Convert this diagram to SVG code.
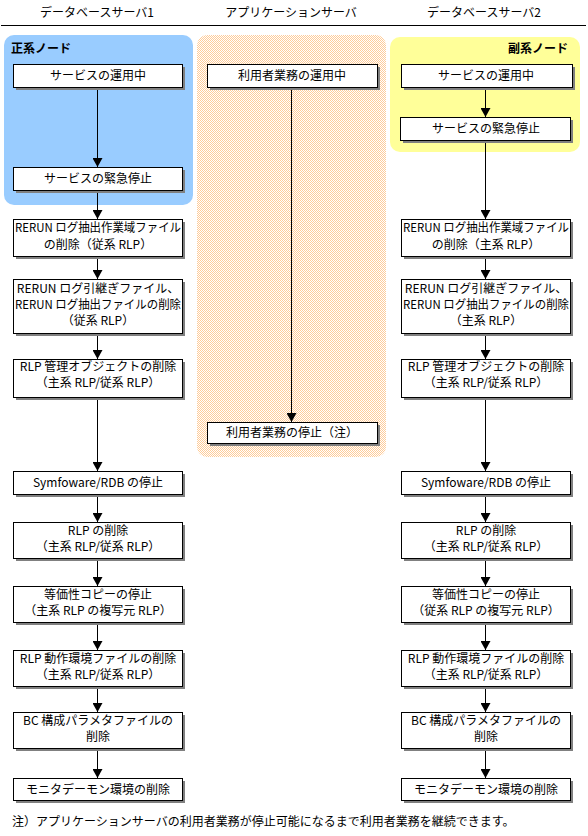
<svg xmlns="http://www.w3.org/2000/svg" width="588" height="836" viewBox="0 0 588 836">
<defs>
<pattern id="dither" width="2" height="2" patternUnits="userSpaceOnUse">
<rect width="2" height="2" fill="#FFFFFF"/>
<rect width="1" height="1" fill="#FFCC99"/>
<rect x="1" y="1" width="1" height="1" fill="#FFCC99"/>
</pattern>
<marker id="ah" markerUnits="userSpaceOnUse" markerWidth="10" markerHeight="10" refX="9" refY="5" orient="auto" viewBox="0 0 10 10">
<path d="M0,0 L9,5 L0,10 z" fill="#000"/>
</marker>
</defs>
<style>
text{font-family:"Noto Sans CJK JP","Noto Sans",sans-serif;font-size:12px;fill:#000}
.c{text-anchor:middle}
.b{font-weight:bold}
.box{fill:#fff;stroke:#000;stroke-width:1}
.sh{fill:#808080}
.ln{stroke:#000;stroke-width:1;fill:none}
.ar{stroke:#000;stroke-width:1;fill:none;marker-end:url(#ah)}
</style>
<rect width="588" height="836" fill="#fff"/>
<g id="headers">
<text class="c" x="97" y="17">データベースサーバ1</text>
<text class="c" x="291" y="17">アプリケーションサーバ</text>
<text class="c" x="484" y="17">データベースサーバ2</text>
<line class="ln" x1="1" y1="25.5" x2="586" y2="25.5"/>
</g>
<g id="panels">
<rect x="4" y="35" width="189" height="170" rx="10" fill="#99CCFF"/>
<rect x="197" y="35" width="189" height="422" rx="10" fill="url(#dither)"/>
<rect x="390" y="37" width="190" height="115" rx="10" fill="#FFFF99"/>
<text class="b" x="11" y="53">正系ノード</text>
<text class="b" x="568" y="53" text-anchor="end">副系ノード</text>
</g>
<g id="connectors">
<line class="ar" x1="97.5" y1="87" x2="97.5" y2="167"/>
<line class="ar" x1="97.5" y1="190" x2="97.5" y2="219"/>
<line class="ar" x1="97.5" y1="256" x2="97.5" y2="279"/>
<line class="ar" x1="97.5" y1="333" x2="97.5" y2="359"/>
<line class="ar" x1="97.5" y1="397" x2="97.5" y2="471"/>
<line class="ar" x1="97.5" y1="494" x2="97.5" y2="522"/>
<line class="ar" x1="97.5" y1="558" x2="97.5" y2="586"/>
<line class="ar" x1="97.5" y1="622" x2="97.5" y2="650"/>
<line class="ar" x1="97.5" y1="686" x2="97.5" y2="712"/>
<line class="ar" x1="97.5" y1="748" x2="97.5" y2="778"/>
<line class="ar" x1="291.5" y1="87" x2="291.5" y2="422"/>
<line class="ar" x1="485.5" y1="87" x2="485.5" y2="117"/>
<line class="ar" x1="485.5" y1="140" x2="485.5" y2="219"/>
<line class="ar" x1="485.5" y1="256" x2="485.5" y2="279"/>
<line class="ar" x1="485.5" y1="333" x2="485.5" y2="359"/>
<line class="ar" x1="485.5" y1="397" x2="485.5" y2="471"/>
<line class="ar" x1="485.5" y1="494" x2="485.5" y2="522"/>
<line class="ar" x1="485.5" y1="558" x2="485.5" y2="586"/>
<line class="ar" x1="485.5" y1="622" x2="485.5" y2="650"/>
<line class="ar" x1="485.5" y1="686" x2="485.5" y2="712"/>
<line class="ar" x1="485.5" y1="748" x2="485.5" y2="778"/>
</g>
<g id="L1"><rect class="sh" x="16" y="67" width="169" height="23"/><rect class="box" x="13.5" y="64.5" width="169" height="23"/><text class="c" x="98" y="80">サービスの運用中</text></g>
<g id="L2"><rect class="sh" x="16" y="170" width="169" height="23"/><rect class="box" x="13.5" y="167.5" width="169" height="23"/><text class="c" x="98" y="183">サービスの緊急停止</text></g>
<g id="L3"><rect class="sh" x="16" y="222" width="169" height="37"/><rect class="box" x="13.5" y="219.5" width="169" height="37"/><text class="c" x="98" y="232" textLength="166" lengthAdjust="spacingAndGlyphs">RERUN ログ抽出作業域ファイル</text><text class="c" x="98" y="249">の削除（従系 RLP）</text></g>
<g id="L4"><rect class="sh" x="16" y="282" width="169" height="54"/><rect class="box" x="13.5" y="279.5" width="169" height="54"/><text class="c" x="98" y="293">RERUN ログ引継ぎファイル、</text><text class="c" x="98" y="309" textLength="166" lengthAdjust="spacingAndGlyphs">RERUN ログ抽出ファイルの削除</text><text class="c" x="98" y="325">（従系 RLP）</text></g>
<g id="L5"><rect class="sh" x="16" y="362" width="169" height="38"/><rect class="box" x="13.5" y="359.5" width="169" height="38"/><text class="c" x="98" y="371">RLP 管理オブジェクトの削除</text><text class="c" x="98" y="387">（主系 RLP/従系 RLP）</text></g>
<g id="L6"><rect class="sh" x="16" y="474" width="169" height="23"/><rect class="box" x="13.5" y="471.5" width="169" height="23"/><text class="c" x="98" y="487">Symfoware/RDB の停止</text></g>
<g id="L7"><rect class="sh" x="16" y="525" width="169" height="36"/><rect class="box" x="13.5" y="522.5" width="169" height="36"/><text class="c" x="98" y="535">RLP の削除</text><text class="c" x="98" y="551">（主系 RLP/従系 RLP）</text></g>
<g id="L8"><rect class="sh" x="16" y="589" width="169" height="36"/><rect class="box" x="13.5" y="586.5" width="169" height="36"/><text class="c" x="98" y="599">等価性コピーの停止</text><text class="c" x="98" y="615">（主系 RLP の複写元 RLP）</text></g>
<g id="L9"><rect class="sh" x="16" y="653" width="169" height="36"/><rect class="box" x="13.5" y="650.5" width="169" height="36"/><text class="c" x="98" y="663">RLP 動作環境ファイルの削除</text><text class="c" x="98" y="679">（主系 RLP/従系 RLP）</text></g>
<g id="L10"><rect class="sh" x="16" y="715" width="169" height="36"/><rect class="box" x="13.5" y="712.5" width="169" height="36"/><text class="c" x="98" y="725">BC 構成パラメタファイルの</text><text class="c" x="98" y="741">削除</text></g>
<g id="L11"><rect class="sh" x="16" y="781" width="169" height="22"/><rect class="box" x="13.5" y="778.5" width="169" height="22"/><text class="c" x="98" y="794">モニタデーモン環境の削除</text></g>
<g id="M1"><rect class="sh" x="210" y="67" width="170" height="23"/><rect class="box" x="207.5" y="64.5" width="170" height="23"/><text class="c" x="292" y="80">利用者業務の運用中</text></g>
<g id="M2"><rect class="sh" x="210" y="425" width="170" height="21"/><rect class="box" x="207.5" y="422.5" width="170" height="21"/><text class="c" x="292" y="437">利用者業務の停止（注）</text></g>
<g id="R1"><rect class="sh" x="404" y="67" width="171" height="23"/><rect class="box" x="401.5" y="64.5" width="171" height="23"/><text class="c" x="486" y="80">サービスの運用中</text></g>
<g id="R2"><rect class="sh" x="403" y="120" width="170" height="23"/><rect class="box" x="400.5" y="117.5" width="170" height="23"/><text class="c" x="486" y="133">サービスの緊急停止</text></g>
<g id="R3"><rect class="sh" x="404" y="222" width="169" height="37"/><rect class="box" x="401.5" y="219.5" width="169" height="37"/><text class="c" x="486" y="232" textLength="166" lengthAdjust="spacingAndGlyphs">RERUN ログ抽出作業域ファイル</text><text class="c" x="486" y="249">の削除（主系 RLP）</text></g>
<g id="R4"><rect class="sh" x="404" y="282" width="169" height="54"/><rect class="box" x="401.5" y="279.5" width="169" height="54"/><text class="c" x="486" y="293">RERUN ログ引継ぎファイル、</text><text class="c" x="486" y="309" textLength="166" lengthAdjust="spacingAndGlyphs">RERUN ログ抽出ファイルの削除</text><text class="c" x="486" y="325">（主系 RLP）</text></g>
<g id="R5"><rect class="sh" x="404" y="362" width="169" height="38"/><rect class="box" x="401.5" y="359.5" width="169" height="38"/><text class="c" x="486" y="371">RLP 管理オブジェクトの削除</text><text class="c" x="486" y="387">（主系 RLP/従系 RLP）</text></g>
<g id="R6"><rect class="sh" x="404" y="474" width="169" height="23"/><rect class="box" x="401.5" y="471.5" width="169" height="23"/><text class="c" x="486" y="487">Symfoware/RDB の停止</text></g>
<g id="R7"><rect class="sh" x="404" y="525" width="169" height="36"/><rect class="box" x="401.5" y="522.5" width="169" height="36"/><text class="c" x="486" y="535">RLP の削除</text><text class="c" x="486" y="551">（主系 RLP/従系 RLP）</text></g>
<g id="R8"><rect class="sh" x="404" y="589" width="169" height="36"/><rect class="box" x="401.5" y="586.5" width="169" height="36"/><text class="c" x="486" y="599">等価性コピーの停止</text><text class="c" x="486" y="615">（従系 RLP の複写元 RLP）</text></g>
<g id="R9"><rect class="sh" x="404" y="653" width="169" height="36"/><rect class="box" x="401.5" y="650.5" width="169" height="36"/><text class="c" x="486" y="663">RLP 動作環境ファイルの削除</text><text class="c" x="486" y="679">（主系 RLP/従系 RLP）</text></g>
<g id="R10"><rect class="sh" x="404" y="715" width="169" height="36"/><rect class="box" x="401.5" y="712.5" width="169" height="36"/><text class="c" x="486" y="725">BC 構成パラメタファイルの</text><text class="c" x="486" y="741">削除</text></g>
<g id="R11"><rect class="sh" x="404" y="781" width="169" height="22"/><rect class="box" x="401.5" y="778.5" width="169" height="22"/><text class="c" x="486" y="794">モニタデーモン環境の削除</text></g>
<g id="note"><text x="12" y="826">注）アプリケーションサーバの利用者業務が停止可能になるまで利用者業務を継続できます。</text></g>
</svg>
